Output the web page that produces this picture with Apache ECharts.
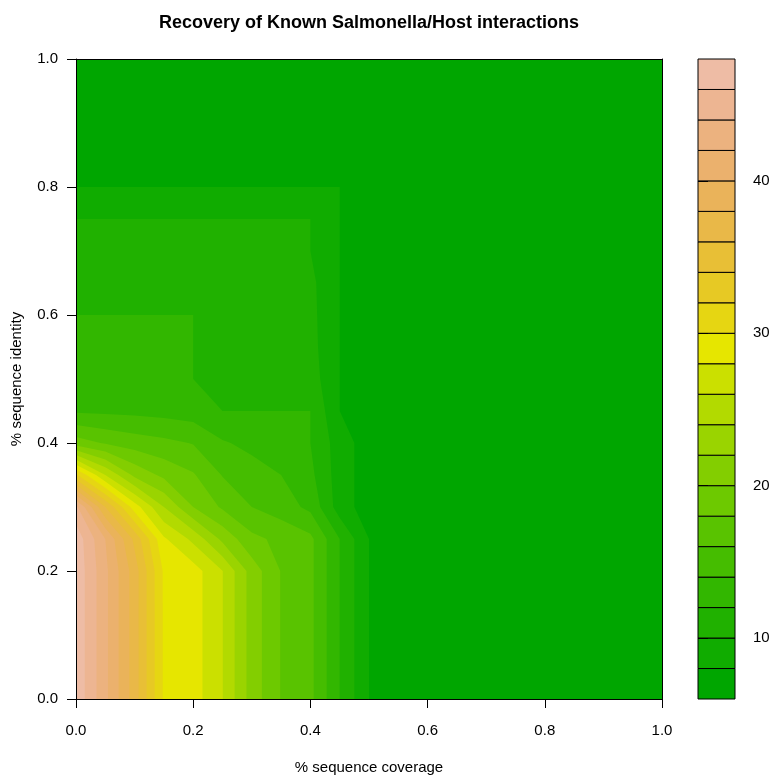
<!DOCTYPE html>
<html>
<head>
<meta charset="utf-8">
<script src="https://cdn.jsdelivr.net/npm/echarts@6/dist/echarts.min.js"></script>
<style>
html,body{margin:0;padding:0;background:#ffffff;}
#chart{width:774px;height:777px;}
</style>
</head>
<body>
<div id="chart"></div>
<script>
// ---- data ----
const coverage = [0, 0.05, 0.1, 0.15, 0.2, 0.25, 0.3, 0.35, 0.4, 0.45, 0.5, 0.55, 0.6, 0.65, 0.7, 0.75, 0.8, 0.85, 0.9, 0.95, 1.0];
const identity = [0, 0.05, 0.1, 0.15, 0.2, 0.25, 0.3, 0.35, 0.4, 0.45, 0.5, 0.55, 0.6, 0.65, 0.7, 0.75, 0.8, 0.85, 0.9, 0.95, 1.0];
// recovered[j][i] : value at identity[j], coverage[i]
const recovered = [
  [47.5, 42.5, 37, 29.7, 28.9, 26.05, 21.1, 17.9, 16.5, 12, 8, 7, 7, 7, 7, 7, 7, 7, 7, 7, 7],
  [47.5, 42.5, 37, 29.7, 28.9, 26.05, 21.1, 17.9, 16.5, 12, 8, 7, 7, 7, 7, 7, 7, 7, 7, 7, 7],
  [47.5, 42.5, 37, 29.7, 28.9, 26.05, 21.1, 17.9, 16.5, 12, 8, 7, 7, 7, 7, 7, 7, 7, 7, 7, 7],
  [47.5, 42.5, 37, 29.7, 28.9, 26.05, 21.1, 17.9, 16.5, 12, 8, 7, 7, 7, 7, 7, 7, 7, 7, 7, 7],
  [47.5, 42.5, 37, 29.7, 28.9, 26.05, 21.1, 17.9, 16.5, 12, 8, 7, 7, 7, 7, 7, 7, 7, 7, 7, 7],
  [47.3, 42, 35.5, 28.3, 25.5, 21.5, 18.5, 17.5, 16.5, 12, 8, 7, 7, 7, 7, 7, 7, 7, 7, 7, 7],
  [44.5, 36, 29, 24, 20, 17.7, 16, 15, 13.5, 9, 7, 7, 7, 7, 7, 7, 7, 7, 7, 7, 7],
  [32.3, 26, 21.5, 19.5, 18.2, 15.9, 14.8, 14, 12.5, 9, 7, 7, 7, 7, 7, 7, 7, 7, 7, 7, 7],
  [19, 17.8, 17, 16.5, 15.9, 14.2, 13.5, 12.8, 12, 9, 7, 7, 7, 7, 7, 7, 7, 7, 7, 7, 7],
  [13.7, 13.6, 13.5, 13.3, 13, 12, 12, 12, 12, 8, 7, 7, 7, 7, 7, 7, 7, 7, 7, 7, 7],
  [13, 13, 13, 13, 12, 11.5, 11.5, 11.5, 11, 8, 7, 7, 7, 7, 7, 7, 7, 7, 7, 7, 7],
  [12.5, 12.5, 12.5, 12.5, 12, 11.3, 11.3, 11.3, 10.7, 8, 7, 7, 7, 7, 7, 7, 7, 7, 7, 7, 7],
  [12, 12, 12, 12, 12, 11, 11, 11, 10.6, 8, 7, 7, 7, 7, 7, 7, 7, 7, 7, 7, 7],
  [11, 11, 11, 11, 11, 11, 11, 11, 10.5, 8, 7, 7, 7, 7, 7, 7, 7, 7, 7, 7, 7],
  [10.8, 10.8, 10.8, 10.8, 10.8, 10.8, 10.8, 10.8, 10, 8, 7, 7, 7, 7, 7, 7, 7, 7, 7, 7, 7],
  [10, 10, 10, 10, 10, 10, 10, 10, 10, 8, 7, 7, 7, 7, 7, 7, 7, 7, 7, 7, 7],
  [8, 8, 8, 8, 8, 8, 8, 8, 8, 8, 7, 7, 7, 7, 7, 7, 7, 7, 7, 7, 7],
  [7, 7, 7, 7, 7, 7, 7, 7, 7, 7, 7, 7, 7, 7, 7, 7, 7, 7, 7, 7, 7],
  [7, 7, 7, 7, 7, 7, 7, 7, 7, 7, 7, 7, 7, 7, 7, 7, 7, 7, 7, 7, 7],
  [7, 7, 7, 7, 7, 7, 7, 7, 7, 7, 7, 7, 7, 7, 7, 7, 7, 7, 7, 7, 7],
  [7, 7, 7, 7, 7, 7, 7, 7, 7, 7, 7, 7, 7, 7, 7, 7, 7, 7, 7, 7, 7]
];
const levels = [6, 8, 10, 12, 14, 16, 18, 20, 22, 24, 26, 28, 30, 32, 34, 36, 38, 40, 42, 44, 46, 48];
const axisTicks = [0, 0.2, 0.4, 0.6, 0.8, 1.0];
const keyTicks = [10, 20, 30, 40];

// ---- R terrain.colors palette ----
function hsvToHex(h, s, v) {
  let r, g, b;
  if (s === 0) { r = g = b = v; }
  else {
    let t = 6 * (h % 1);
    let i = Math.floor(t + 1e-12);
    let f = t - i;
    if (f < 0) f = 0;
    const p = v * (1 - s), q = v * (1 - s * f), u = v * (1 - s * (1 - f));
    switch (i % 6) {
      case 0: r = v; g = u; b = p; break;
      case 1: r = q; g = v; b = p; break;
      case 2: r = p; g = v; b = u; break;
      case 3: r = p; g = q; b = v; break;
      case 4: r = u; g = p; b = v; break;
      default: r = v; g = p; b = q;
    }
  }
  const c = x => Math.round(255 * x).toString(16).padStart(2, '0');
  return '#' + c(r) + c(g) + c(b);
}
function seq(a, b, n) { const out = []; for (let i = 0; i < n; i++) out.push(n === 1 ? a : a + (b - a) * i / (n - 1)); return out; }
function terrainColors(n) {
  const k = Math.floor(n / 2);
  const h1 = seq(4 / 12, 2 / 12, k), s1 = seq(1, 1, k), v1 = seq(0.65, 0.9, k);
  const h2 = seq(2 / 12, 0, n - k + 1).slice(1), s2 = seq(1, 0, n - k + 1).slice(1), v2 = seq(0.9, 0.95, n - k + 1).slice(1);
  const cols = [];
  for (let i = 0; i < k; i++) cols.push(hsvToHex(h1[i], s1[i], v1[i]));
  for (let i = 0; i < n - k; i++) cols.push(hsvToHex(h2[i], s2[i], v2[i]));
  return cols;
}
const palette = terrainColors(25).slice(0, levels.length - 1);

// ---- filled-contour clipping (region z >= level inside one grid cell) ----
function clipAbove(poly, level) {
  const out = [];
  const n = poly.length;
  for (let i = 0; i < n; i++) {
    const a = poly[i], b = poly[(i + 1) % n];
    const ina = a.z >= level, inb = b.z >= level;
    if (ina) out.push(a);
    if (ina !== inb) {
      const t = (level - a.z) / (b.z - a.z);
      out.push({ x: a.x + t * (b.x - a.x), y: a.y + t * (b.y - a.y), z: level });
    }
  }
  return out;
}

const bandData = [];
for (let k = 0; k < levels.length - 1; k++) bandData.push([0.5, 0.5, k]);
const keyData = [];
for (let k = 0; k < levels.length - 1; k++) keyData.push([0.5, (levels[k] + levels[k + 1]) / 2, k]);

const FONT = 'Liberation Sans, Arial, Helvetica, sans-serif';

const chart = echarts.init(document.getElementById('chart'), null, { renderer: 'canvas' });
chart.setOption({
  animation: false,
  backgroundColor: '#ffffff',
  title: {
    text: 'Recovery of Known Salmonella/Host interactions',
    left: 364,
    textAlign: 'center',
    top: 9,
    textStyle: { fontFamily: FONT, fontSize: 18, fontWeight: 'bold', color: '#000' }
  },
  grid: [
    { left: 76, top: 59, width: 586, height: 640, containLabel: false, outerBoundsMode: 'none' },
    { left: 698, top: 59, width: 37, height: 640, containLabel: false, outerBoundsMode: 'none' }
  ],
  xAxis: [
    {
      type: 'value', gridIndex: 0, min: 0, max: 1, interval: 0.2, position: 'bottom', z: 5,
      axisLine: { show: true, onZero: false, lineStyle: { color: '#000', width: 1 } },
      axisTick: { show: true, inside: false, length: 9, lineStyle: { color: '#000' }, customValues: axisTicks },
      axisLabel: { show: true, margin: 24, fontSize: 15, fontFamily: FONT, color: '#000', showMinLabel: true, showMaxLabel: true,
        customValues: axisTicks, formatter: v => Number(v).toFixed(1) },
      splitLine: { show: false },
      name: '% sequence coverage', nameLocation: 'middle', nameGap: 61,
      nameTextStyle: { fontFamily: FONT, fontSize: 15, color: '#000' }
    },
    {
      type: 'value', gridIndex: 0, min: 0, max: 1, position: 'top', z: 5,
      axisLine: { show: true, onZero: false, lineStyle: { color: '#000', width: 1 } },
      axisTick: { show: false }, axisLabel: { show: false }, splitLine: { show: false }
    },
    {
      type: 'value', gridIndex: 1, min: 0, max: 1, show: false
    }
  ],
  yAxis: [
    {
      type: 'value', gridIndex: 0, min: 0, max: 1, interval: 0.2, position: 'left', z: 5,
      axisLine: { show: true, onZero: false, lineStyle: { color: '#000', width: 1 } },
      axisTick: { show: true, inside: false, length: 9, lineStyle: { color: '#000' }, customValues: axisTicks },
      axisLabel: { show: true, margin: 18, fontSize: 15, fontFamily: FONT, color: '#000', showMinLabel: true, showMaxLabel: true,
        customValues: axisTicks, formatter: v => Number(v).toFixed(1) },
      splitLine: { show: false },
      name: '% sequence identity', nameLocation: 'middle', nameGap: 52, nameRotate: 90,
      nameTextStyle: { fontFamily: FONT, fontSize: 15, color: '#000' }
    },
    {
      type: 'value', gridIndex: 0, min: 0, max: 1, position: 'right', z: 5,
      axisLine: { show: true, onZero: false, lineStyle: { color: '#000', width: 1 } },
      axisTick: { show: false }, axisLabel: { show: false }, splitLine: { show: false }
    },
    {
      type: 'value', gridIndex: 1, min: 6, max: 48, position: 'right', z: 5,
      axisLine: { show: false },
      axisTick: { show: true, inside: false, length: 10, lineStyle: { color: '#000' }, customValues: keyTicks },
      axisLabel: { show: true, margin: 18, fontSize: 15, fontFamily: FONT, color: '#000', customValues: keyTicks },
      splitLine: { show: false }
    }
  ],
  series: [
    {
      type: 'custom',
      xAxisIndex: 0, yAxisIndex: 0,
      coordinateSystem: 'cartesian2d',
      clip: true,
      z: 2,
      encode: { x: 0, y: 1 },
      data: bandData,
      renderItem: function (params, api) {
        const k = api.value(2);
        const lo = levels[k];
        let d = '';
        for (let j = 0; j < identity.length - 1; j++) {
          for (let i = 0; i < coverage.length - 1; i++) {
            const corners = [
              { x: coverage[i], y: identity[j], z: recovered[j][i] },
              { x: coverage[i + 1], y: identity[j], z: recovered[j][i + 1] },
              { x: coverage[i + 1], y: identity[j + 1], z: recovered[j + 1][i + 1] },
              { x: coverage[i], y: identity[j + 1], z: recovered[j + 1][i] }
            ];
            const poly = clipAbove(corners, lo);
            if (poly.length < 3) continue;
            poly.forEach(function (p, idx) {
              const c = api.coord([p.x, p.y]);
              d += (idx === 0 ? 'M' : 'L') + c[0].toFixed(3) + ' ' + c[1].toFixed(3) + ' ';
            });
            d += 'Z ';
          }
        }
        if (!d) return null;
        return {
          type: 'path',
          z2: k,
          shape: { pathData: d },
          style: { fill: palette[k], stroke: null }
        };
      }
    },
    {
      type: 'custom',
      xAxisIndex: 2, yAxisIndex: 2,
      coordinateSystem: 'cartesian2d',
      z: 2,
      encode: { x: 0, y: 1 },
      data: keyData,
      renderItem: function (params, api) {
        const k = api.value(2);
        const p0 = api.coord([0, levels[k + 1]]);
        const p1 = api.coord([1, levels[k]]);
        return {
          type: 'rect',
          shape: { x: p0[0], y: p0[1], width: p1[0] - p0[0], height: p1[1] - p0[1] },
          style: { fill: palette[k], stroke: '#000', lineWidth: 1 }
        };
      }
    }
  ]
});
</script>
</body>
</html>
